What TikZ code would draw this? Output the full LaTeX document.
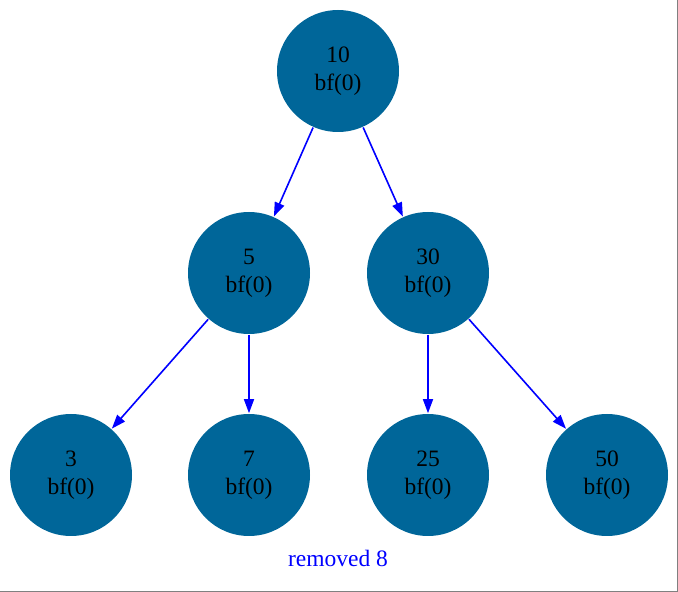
\documentclass[tikz,border=0pt]{standalone}
\usepackage{fontspec}
\setmainfont{Liberation Serif}
\usepackage{tikz}
\usetikzlibrary{arrows.meta,shapes,positioning}

\definecolor{nodeblue}{HTML}{006699}

\begin{document}
\begin{tikzpicture}[x=1pt, y=1pt, on grid, >={Triangle[length=14pt, width=10pt]}, line width=1.6pt,
    treenode/.style={circle, fill=nodeblue, draw=none, minimum size=122pt, inner sep=0pt, align=center, font=\fontsize{23.5}{28}\selectfont},
    line/.style={draw=blue, ->, shorten >=0pt}]
    \useasboundingbox (0,0) rectangle (678,592);
    \draw[gray, line width=1pt] (677.5,592) -- (677.5,0.5) -- (0,0.5);

    \node [treenode] (n10) at (338,521) {10\\bf(0)};
    \node [treenode, below left=202pt and 89pt of n10] (n5) {5\\bf(0)};
    \node [treenode, below right=202pt and 90pt of n10] (n30) {30\\bf(0)};
    \node [treenode, below left=202pt and 178pt of n5] (n3) {3\\bf(0)};
    \node [treenode, below=202pt of n5] (n7) {7\\bf(0)};
    \node [treenode, below=202pt of n30] (n25) {25\\bf(0)};
    \node [treenode, below right=202pt and 179pt of n30] (n50) {50\\bf(0)};

    \node [text=blue, font=\fontsize{23.5}{28}\selectfont] (caption) at (338,34) {removed 8};

    \path [line] (n10) -- (n5);
    \path [line] (n10) -- (n30);
    \path [line] (n5) -- (n3);
    \path [line] (n5) -- (n7);
    \path [line] (n30) -- (n25);
    \path [line] (n30) -- (n50);
\end{tikzpicture}
\end{document}
